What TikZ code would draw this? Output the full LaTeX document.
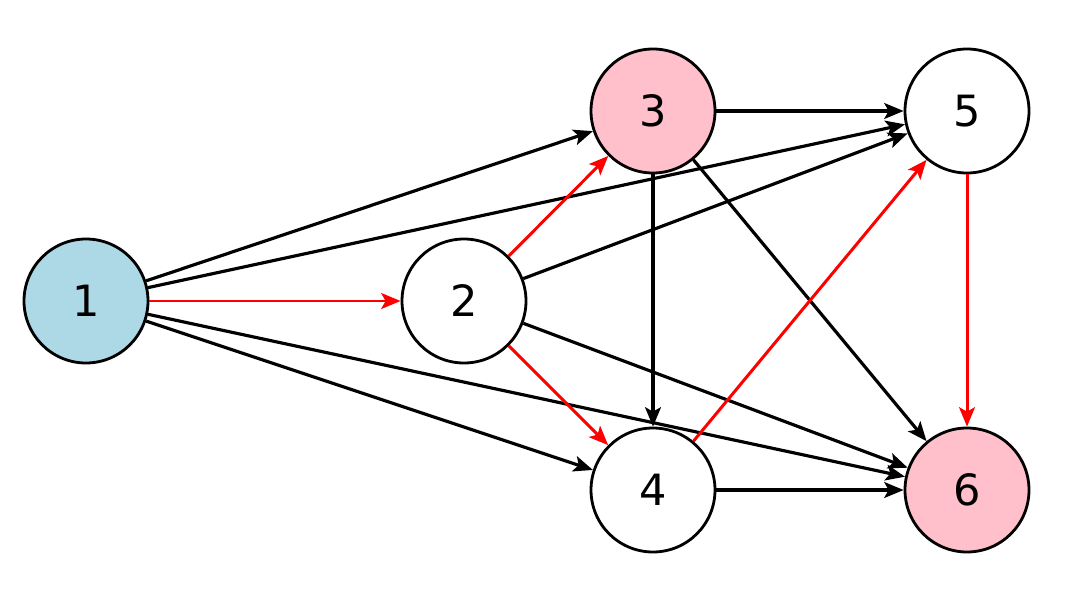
\documentclass[tikz,border=0pt]{standalone}
\usepackage{fontspec}
\setmainfont{DejaVu Sans}
\usetikzlibrary{arrows.meta}
\definecolor{lightblue}{HTML}{ADD8E6}
\definecolor{pinkfill}{HTML}{FFC0CB}

\begin{document}
\begin{tikzpicture}[
            vertex/.style={draw, circle, line width=1.6pt, minimum size=2.48cm,
                           inner sep=0pt, font=\fontsize{24.5}{24.5}\selectfont},
            arr/.style={-{Stealth[length=11pt, width=9pt, inset=2.5pt]}, line width=1.8pt},
            hot/.style={arr, red, line width=1.7pt}
        ]
        \useasboundingbox (0,0) rectangle (21.6,-11.84);

        % --- vertices ---
        \node[vertex, fill=lightblue] (v1) at (1.72, -6.02) {1};
        \node[vertex, fill=white] (v2) at (9.28, -6.02) {2};
        \node[vertex, fill=pinkfill] (v3) at (13.06, -2.22) {3};
        \node[vertex, fill=white] (v4) at (13.06, -9.80) {4};
        \node[vertex, fill=white] (v5) at (19.34, -2.22) {5};
        \node[vertex, fill=pinkfill] (v6) at (19.34, -9.80) {6};

        % --- black edges ---
        \draw[arr] (v1) -- (v3);
        \draw[arr] (v1) -- (v5);
        \draw[arr] (v1) -- (v4);
        \draw[arr] (v1) -- (v6);
        \draw[arr] (v2) -- (v5);
        \draw[arr] (v2) -- (v6);
        \draw[arr] (v3) -- (v5);
        \draw[arr] (v3) -- (v4);
        \draw[arr] (v3) -- (v6);
        \draw[arr] (v4) -- (v6);

        % --- red edges ---
        \draw[hot] (v1) -- (v2);
        \draw[hot] (v2) -- (v3);
        \draw[hot] (v2) -- (v4);
        \draw[hot] (v4) -- (v5);
        \draw[hot] (v5) -- (v6);
        \end{tikzpicture}
\end{document}
